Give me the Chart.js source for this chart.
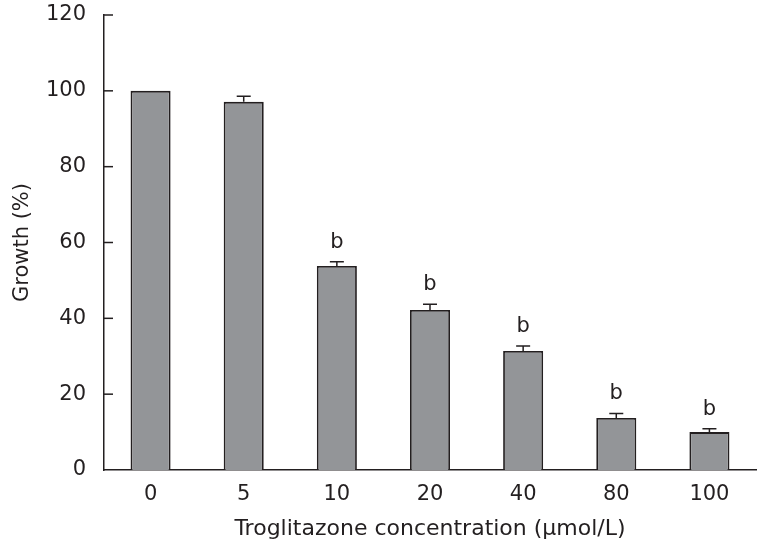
<!DOCTYPE html>
<html>
<head>
<meta charset="utf-8">
<script src="https://cdn.jsdelivr.net/npm/chart.js@4"></script>
<style>
    html, body { margin: 0; padding: 0; background: #fff; }
    #wrap { width: 768px; height: 546px; }
</style>
</head>
<body>
<div id="wrap"><canvas id="growthChart" width="768" height="546"></canvas></div>
<script>
// Data
const concentrations = ['0', '5', '10', '20', '40', '80', '100'];
const growth = [100, 97.1, 53.8, 42.2, 31.4, 13.7, 10.0];
const errors = [0, 1.5, 1.1, 1.5, 1.3, 1.2, 0.9];
const marks = ['', '', 'b', 'b', 'b', 'b', 'b'];
const yTicks = [0, 20, 40, 60, 80, 100, 120];

const FONT = '"DejaVu Sans", sans-serif';

// error bars (upper only), significance letters and inward y ticks
const extras = {
    id: 'extras',
    afterDatasetsDraw(chart) {
        const ctx = chart.ctx;
        const x = chart.scales.x;
        const y = chart.scales.y;
        ctx.save();
        ctx.strokeStyle = '#231f20';
        ctx.lineWidth = 1.5;

        growth.forEach((v, i) => {
            const cx = x.getPixelForValue(i);
            const top = y.getPixelForValue(v + errors[i]);
            const base = y.getPixelForValue(v);
            if (errors[i] > 0) {
                ctx.beginPath();
                ctx.moveTo(cx, base);
                ctx.lineTo(cx, top);
                ctx.moveTo(cx - 7, top);
                ctx.lineTo(cx + 7, top);
                ctx.stroke();
            }
            if (marks[i]) {
                ctx.fillStyle = '#231f20';
                ctx.font = '21px ' + FONT;
                ctx.textAlign = 'center';
                ctx.textBaseline = 'bottom';
                ctx.fillText(marks[i], cx, top - 9);
            }
        });

        // tick marks point into the plot (0 sits on the x axis)
        yTicks.slice(1).forEach(t => {
            const py = y.getPixelForValue(t);
            ctx.beginPath();
            ctx.moveTo(chart.chartArea.left, py);
            ctx.lineTo(chart.chartArea.left + 9, py);
            ctx.stroke();
        });
        ctx.restore();
    }
};

new Chart(document.getElementById('growthChart').getContext('2d'), {
    type: 'bar',
    data: {
        labels: concentrations,
        datasets: [{
            data: growth,
            backgroundColor: '#939598',
            borderColor: '#231f20',
            borderWidth: 1.8,
            borderSkipped: 'bottom',
            barPercentage: 0.43,
            categoryPercentage: 1.0
        }]
    },
    options: {
        responsive: false,
        animation: false,
        layout: { padding: { top: 15, right: 12, left: 6, bottom: 0 } },
        plugins: {
            legend: { display: false },
            tooltip: { enabled: false }
        },
        scales: {
            x: {
                grid: { display: false, drawTicks: false },
                border: { display: true, color: '#231f20', width: 1.5 },
                ticks: { color: '#231f20', font: { family: FONT, size: 21 }, padding: 12 },
                title: {
                    display: true,
                    text: 'Troglitazone concentration (μmol/L)',
                    color: '#231f20',
                    font: { family: FONT, size: 22 },
                    padding: { top: 5 }
                },
                afterFit: s => { s.height = 76; }
            },
            y: {
                min: 0,
                max: 120,
                afterBuildTicks: s => { s.ticks = yTicks.map(v => ({ value: v })); },
                grid: { display: false, drawTicks: false },
                border: { display: true, color: '#231f20', width: 1.5 },
                ticks: { color: '#231f20', font: { family: FONT, size: 21 }, padding: 18 },
                title: {
                    display: true,
                    text: 'Growth (%)',
                    color: '#231f20',
                    font: { family: FONT, size: 21 },
                    padding: { bottom: 8 }
                },
                afterFit: s => {
                    s.width = 98;
                    s.paddingTop = 0;
                    s.paddingBottom = 0;
                }
            }
        }
    },
    plugins: [extras]
});
</script>
</body>
</html>
